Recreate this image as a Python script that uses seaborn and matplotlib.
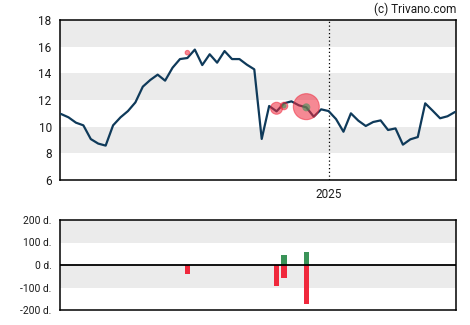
import numpy as np
import pandas as pd
import matplotlib
matplotlib.use("Agg")
import matplotlib.pyplot as plt
import matplotlib.dates as mdates
import seaborn as sns

# Weekly closing prices
start_date = "2024-04-24"
prices = [10.95, 10.7, 10.3, 10.1, 9.07, 8.73, 8.58, 10.1, 10.7, 11.17,
          11.82, 13.0, 13.5, 13.9, 13.45, 14.42, 15.07, 15.15, 15.78, 14.62,
          15.43, 14.8, 15.67, 15.07, 15.07, 14.65, 14.3, 9.08, 11.55, 11.15,
          11.75, 11.9, 11.6, 11.45, 10.75, 11.3, 11.17, 10.57, 9.62, 11.0,
          10.45, 10.05, 10.35, 10.47, 9.75, 9.87, 8.65, 9.05, 9.22, 11.75,
          11.2, 10.63, 10.78, 11.1]

# Insider transactions
sell_dates = ["2024-08-21", "2024-11-13", "2024-11-20", "2024-12-11"]
sell_prices = [15.55, 11.38, 11.55, 11.5]
sell_size = [5, 36, 14, 169]
sell_days = [-38, -92, -56, -172]

buy_dates = ["2024-11-20", "2024-12-11"]
buy_prices = [11.55, 11.45]
buy_size = [6, 16]
buy_days = [44, 58]

y_ticks = [6, 8, 10, 12, 14, 16, 18]
d_ticks = [-200, -100, 0, 100, 200]
d_labels = ["-200 d.", "-100 d.", "0 d.", "100 d.", "200 d."]

dates = pd.date_range(start_date, periods=len(prices), freq="7D")
price_df = pd.DataFrame({"date": dates, "price": prices})
sell_df = pd.DataFrame({"date": pd.to_datetime(sell_dates), "price": sell_prices,
                        "size": sell_size, "days": sell_days})
buy_df = pd.DataFrame({"date": pd.to_datetime(buy_dates), "price": buy_prices,
                       "size": buy_size, "days": buy_days})

sns.set_style("white")
plt.rcParams["font.family"] = ["Roboto", "DejaVu Sans"]

LINE = "#0f3a5a"
RED = "#f0283c"
GREEN = "#3a9358"
BAND = "#ebebeb"

fig = plt.figure(figsize=(4.7, 3.25), dpi=100)
ax = fig.add_axes([60 / 470, 1 - 180 / 325, 396 / 470, 160 / 325])
ax2 = fig.add_axes([60 / 470, 1 - 310 / 325, 396 / 470, 90 / 325])

xmin = dates[0] - pd.Timedelta(days=1)
xmax = dates[-1] + pd.Timedelta(days=1)

# Price panel
for lo in (8, 12, 16):
    ax.axhspan(lo, lo + 2, color=BAND, lw=0, zorder=0)
sns.lineplot(data=price_df, x="date", y="price", color=LINE, lw=1.6, ax=ax, zorder=3)
# marker area in pt^2 from size (squared radius in px)
scale = 1.44 ** 2
ax.scatter(sell_df["date"], sell_df["price"], s=sell_df["size"] * scale,
           color=RED, alpha=0.55, edgecolor=RED, lw=0.8, zorder=4)
ax.scatter(buy_df["date"], buy_df["price"], s=buy_df["size"] * scale,
           color=GREEN, alpha=0.6, lw=0, zorder=5)
ax.axvline(pd.Timestamp("2025-01-01"), color="black", ls=(0, (1, 2)), lw=0.9, zorder=2)
ax.set_xlim(xmin, xmax)
ax.set_ylim(6, 18)
ax.set_yticks(y_ticks)
ax.set_xticks([pd.Timestamp("2025-01-01")])
ax.xaxis.set_major_formatter(mdates.DateFormatter("%Y"))
ax.set_xlabel("")
ax.set_ylabel("")
ax.tick_params(axis="both", direction="out", length=4, width=1, color="black",
               labelsize=8.5, labelcolor="#1a1a1a", pad=2)
for s in ax.spines.values():
    s.set_visible(True)
    s.set_color("black")
    s.set_linewidth(1.1)

fig.text(456 / 470, 1 - 9 / 325, "(c) Trivano.com", ha="right", va="center",
         fontsize=8.5, color="#1a1a1a")

# Days panel
for lo in (-100, 100):
    ax2.axhspan(lo, lo + 100, color=BAND, lw=0, zorder=0)
ax2.bar(sell_df["date"], sell_df["days"], width=5, color=RED, lw=0, zorder=3)
ax2.bar(buy_df["date"], buy_df["days"], width=5, color=GREEN, lw=0, zorder=3)
ax2.axhline(0, color="black", lw=1.3, zorder=4)
ax2.set_xlim(xmin, xmax)
ax2.set_ylim(-200, 200)
ax2.set_yticks(d_ticks)
ax2.set_yticklabels(d_labels)
ax2.set_xticks([])
ax2.tick_params(axis="y", direction="out", length=4, width=1, color="black",
                labelsize=7.4, labelcolor="#1a1a1a", pad=2)
for s in ax2.spines.values():
    s.set_visible(True)
    s.set_color("black")
    s.set_linewidth(1.1)

fig.savefig("out.png", dpi=100)
